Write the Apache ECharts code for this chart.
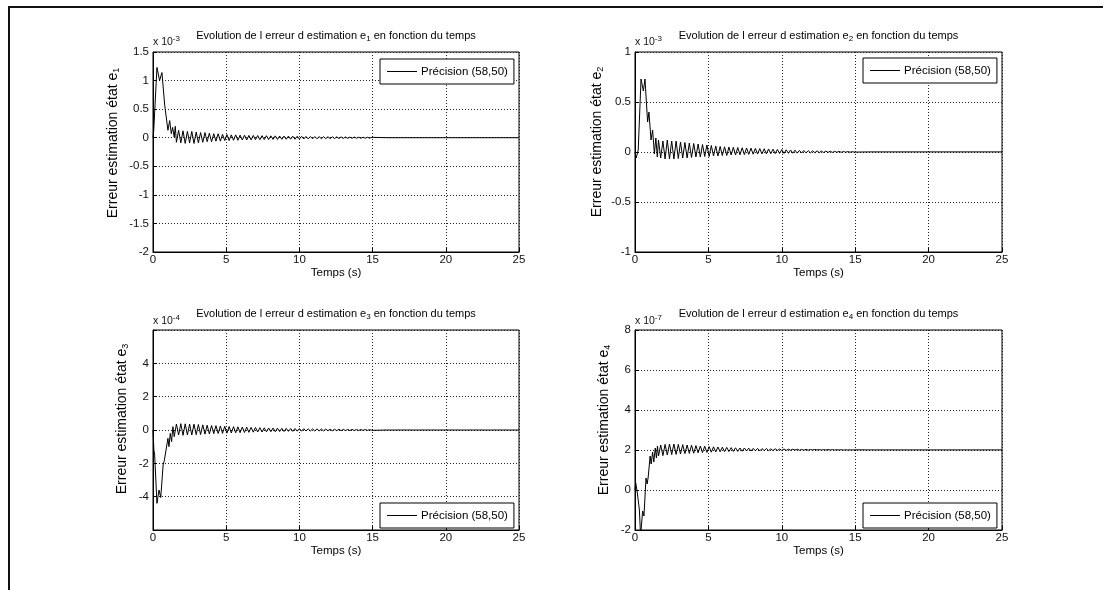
<!DOCTYPE html>
<html><head><meta charset="utf-8">
<script src="https://cdn.jsdelivr.net/npm/echarts@6/dist/echarts.min.js"></script>
<style>html,body{margin:0;padding:0;background:#fff}#c{width:1103px;height:590px}</style>
</head><body><div id="c"></div>
<script>
// ---------- data (values in the units of each axis: e1,e2 x1e-3, e3 x1e-4, e4 x1e-7) ----------
const seriesName = 'Précision (58,50)';
const xMin = 0, xMax = 25, xStep = 5;
const yMin = [-2, -1, -6, -2];
const yMax = [1.5, 1, 6, 8];
const yStep = [0.5, 0.5, 2, 2];
const hiddenYLabels = [[], [], [-6, 6], []];
const exponents = ['-3', '-3', '-4', '-7'];
const stateIdx = ['1', '2', '3', '4'];

// shared oscillation sample times (s), read as alternating peaks / troughs
const tOsc = [1.6,1.75,1.9,2.05,2.2,2.35,2.5,2.65,2.8,2.95,
3.1,3.25,3.4,3.55,3.7,3.85,4.0,4.15,4.3,4.45,
4.6,4.75,4.9,5.05,5.2,5.35,5.5,5.65,5.8,5.95,
6.1,6.25,6.4,6.55,6.7,6.85,7.0,7.15,7.3,7.45,
7.6,7.75,7.9,8.05,8.2,8.35,8.5,8.65,8.8,8.95,
9.1,9.25,9.4,9.55,9.7,9.85,10.0,10.15,10.3,10.45,
10.6,10.75,10.9,11.05,11.2,11.35,11.5,11.65,11.8,11.95,
12.1,12.25,12.4,12.55,12.7,12.85,13.0,13.15,13.3,13.45,
13.6,13.75,13.9,14.05,14.2,14.35,14.5,14.65,14.8,14.95];
const tTail = [16, 25];

// e1
const e1StartT = [0, 0.05, 0.1, 0.27, 0.45, 0.61, 0.8, 0.9, 1.02, 1.14, 1.25, 1.34, 1.45, 1.52];
const e1StartV = [0, 0.12, 0.15, 1.23, 1.0, 1.14, 0.57, 0.6, 0.13, 0.3, 0.07, 0.18, 0.01, 0.2];
const e1Osc = [-0.08,0.13,-0.09,0.12,-0.1,0.11,-0.09,0.11,-0.1,0.1,
-0.09,0.09,-0.08,0.09,-0.07,0.08,-0.07,0.07,-0.06,0.07,
-0.06,0.06,-0.05,0.055,-0.05,0.05,-0.045,0.05,-0.045,0.045,
-0.04,0.045,-0.04,0.04,-0.038,0.04,-0.035,0.038,-0.035,0.036,
-0.033,0.035,-0.032,0.033,-0.03,0.032,-0.03,0.03,-0.028,0.029,
-0.027,0.028,-0.026,0.026,-0.025,0.025,-0.024,0.024,-0.022,0.022,
-0.021,0.021,-0.02,0.02,-0.019,0.019,-0.018,0.018,-0.017,0.017,
-0.016,0.016,-0.015,0.015,-0.014,0.014,-0.013,0.013,-0.012,0.012,
-0.011,0.011,-0.01,0.01,-0.01,0.009,-0.009,0.008,-0.008,0.007];
const e1Tail = [0, 0];

// e2
const e2StartT = [0, 0.08, 0.16, 0.22, 0.41, 0.57, 0.68, 0.86, 0.95, 1.09, 1.2, 1.32, 1.42, 1.52];
const e2StartV = [0, -0.06, -0.05, 0.02, 0.73, 0.61, 0.73, 0.3, 0.4, 0.12, 0.22, -0.02, 0.14, -0.05];
const e2Osc = [0.12,-0.06,0.11,-0.07,0.12,-0.07,0.11,-0.07,0.11,-0.065,
0.1,-0.06,0.095,-0.06,0.09,-0.055,0.085,-0.05,0.08,-0.05,
0.075,-0.045,0.07,-0.045,0.065,-0.04,0.06,-0.04,0.055,-0.035,
0.052,-0.035,0.05,-0.03,0.047,-0.03,0.045,-0.028,0.042,-0.026,
0.04,-0.024,0.038,-0.022,0.036,-0.02,0.034,-0.019,0.032,-0.018,
0.03,-0.017,0.028,-0.016,0.026,-0.015,0.024,-0.014,0.022,-0.013,
0.02,-0.012,0.018,-0.011,0.016,-0.01,0.015,-0.009,0.013,-0.008,
0.012,-0.007,0.011,-0.006,0.01,-0.005,0.009,-0.004,0.008,-0.004,
0.007,-0.003,0.006,-0.003,0.005,-0.002,0.004,-0.002,0.003,-0.001];
const e2Tail = [0.001, 0.001];

// e3
const e3StartT = [0, 0.06, 0.11, 0.27, 0.41, 0.53, 0.69, 0.77, 0.86, 1.02, 1.09, 1.18, 1.27, 1.36, 1.45];
const e3StartV = [0, -1.2, -1.45, -4.4, -3.6, -4.05, -2.1, -1.85, -1.95, -0.5, -1.0, -0.2, -0.7, 0.2, -0.4];
const e3Osc = [0.36,-0.3,0.38,-0.32,0.37,-0.3,0.36,-0.3,0.35,-0.28,
0.33,-0.27,0.31,-0.25,0.29,-0.24,0.27,-0.22,0.26,-0.21,
0.24,-0.2,0.22,-0.19,0.21,-0.18,0.2,-0.17,0.19,-0.16,
0.18,-0.15,0.17,-0.14,0.16,-0.13,0.15,-0.12,0.14,-0.12,
0.13,-0.11,0.12,-0.1,0.12,-0.1,0.11,-0.09,0.1,-0.09,
0.1,-0.08,0.09,-0.08,0.09,-0.07,0.08,-0.07,0.08,-0.06,
0.07,-0.06,0.07,-0.055,0.065,-0.05,0.06,-0.05,0.055,-0.045,
0.05,-0.045,0.05,-0.04,0.045,-0.04,0.04,-0.035,0.04,-0.035,
0.035,-0.03,0.035,-0.03,0.03,-0.025,0.03,-0.025,0.025,-0.02];
const e3Tail = [0, 0];

// e4
const e4StartT = [0, 0.05, 0.16, 0.3, 0.38, 0.46, 0.52, 0.61, 0.75, 0.83, 0.9, 1.03, 1.1, 1.2, 1.28, 1.38, 1.46, 1.53];
const e4StartV = [0, 0.35, -0.15, -1.0, -2.3, -2.3, -1.05, -1.3, 0.6, 0.3, 0.65, 1.7, 1.3, 1.9, 1.4, 2.1, 1.6, 2.2];
const e4Osc = [1.7,2.25,1.72,2.28,1.75,2.3,1.77,2.3,1.78,2.28,
1.8,2.27,1.82,2.25,1.83,2.24,1.84,2.22,1.86,2.2,
1.87,2.19,1.88,2.17,1.89,2.16,1.9,2.15,1.91,2.14,
1.92,2.13,1.92,2.12,1.93,2.11,1.93,2.1,1.94,2.1,
1.95,2.09,1.95,2.08,1.96,2.08,1.96,2.07,1.97,2.07,
1.97,2.06,1.97,2.06,1.98,2.05,1.98,2.05,1.98,2.04,
1.99,2.04,1.99,2.04,1.99,2.03,1.99,2.03,1.99,2.03,
2.0,2.03,2.0,2.02,2.0,2.02,2.0,2.02,2.0,2.02,
2.0,2.015,2.0,2.015,2.0,2.01,2.0,2.01,2.0,2.01];
const e4Tail = [2.005, 2.005];

// ---------- build ----------
function build(st, sv, osc, tail) {
  const T = st.concat(tOsc, tTail);
  const V = sv.concat(osc, tail);
  return T.map((t, i) => [t, V[i]]);
}
const seriesData = [
  build(e1StartT, e1StartV, e1Osc, e1Tail),
  build(e2StartT, e2StartV, e2Osc, e2Tail),
  build(e3StartT, e3StartV, e3Osc, e3Tail),
  build(e4StartT, e4StartV, e4Osc, e4Tail)
];

const FONT = '"Liberation Sans", Arial, Helvetica, sans-serif';
const grids = [
  {left: 153, top: 52, width: 366, height: 200},
  {left: 635, top: 52, width: 367, height: 200},
  {left: 153, top: 330, width: 366, height: 200},
  {left: 635, top: 330, width: 367, height: 200}
];
const legendPos = [
  {left: 380, top: 59}, {left: 863, top: 58},
  {left: 380, top: 503}, {left: 863, top: 503}
];
const titlePos = [[336, 36], [818.5, 36], [336, 314], [818.5, 314]];
const yNamePos = [[113, 143], [597, 142], [122, 419], [604, 420]];
const expPos = [[153, 42], [635, 42], [153, 321], [635, 321]];

const option = {
  animation: false,
  backgroundColor: '#fff',
  grid: grids.map(g => Object.assign({show: true, borderColor: '#000', borderWidth: 1, backgroundColor: '#fff'}, g)),
  xAxis: grids.map((g, i) => ({
    type: 'value', gridIndex: i, min: xMin, max: xMax, interval: xStep,
    name: 'Temps (s)', nameLocation: 'middle', nameGap: 13,
    nameTextStyle: {fontFamily: FONT, fontSize: 11.5, color: '#000'},
    axisLine: {show: true, onZero: false, lineStyle: {color: '#000', width: 1}},
    axisTick: {show: true, inside: true, length: 4, lineStyle: {color: '#000'}},
    axisLabel: {margin: 2, fontFamily: FONT, fontSize: 11.5, color: '#111'},
    splitLine: {show: true, lineStyle: {type: [1, 2], color: '#222', width: 1}}
  })),
  yAxis: grids.map((g, i) => ({
    type: 'value', gridIndex: i, min: yMin[i], max: yMax[i], interval: yStep[i],
    axisLine: {show: true, onZero: false, lineStyle: {color: '#000', width: 1}},
    axisTick: {show: true, inside: true, length: 4, lineStyle: {color: '#000'}},
    axisLabel: {margin: 4, fontFamily: FONT, fontSize: 11.5, color: '#111',
      formatter: v => hiddenYLabels[i].indexOf(v) >= 0 ? '' : String(v)},
    splitLine: {show: true, lineStyle: {type: [1, 2], color: '#222', width: 1}}
  })),
  legend: legendPos.map(p => ({
    left: p.left, top: p.top, orient: 'horizontal',
    data: [{name: seriesName, icon: 'rect'}], selectedMode: false,
    itemWidth: 30, itemHeight: 1, itemGap: 0,
    itemStyle: {color: '#000', borderWidth: 0},
    padding: [6, 6, 6, 7],
    borderColor: '#000', borderWidth: 1, backgroundColor: '#fff',
    textStyle: {fontFamily: FONT, fontSize: 11.5, lineHeight: 13, color: '#000', padding: [0, 0, 0, -1]}
  })),
  series: seriesData.map((d, i) => ({
    type: 'line', name: seriesName, xAxisIndex: i, yAxisIndex: i,
    data: d, symbol: 'none', showSymbol: false, clip: true,
    lineStyle: {color: '#000', width: 1}, itemStyle: {color: '#000'},
    emphasis: {disabled: true}
  })),
  graphic: [
    {type: 'rect', shape: {x: 8, y: 6, width: 1095, height: 2}, style: {fill: '#111'}, silent: true},
    {type: 'rect', shape: {x: 8, y: 6, width: 2, height: 584}, style: {fill: '#111'}, silent: true}
  ].concat(
    titlePos.map((p, i) => ({
      type: 'text', x: p[0], y: p[1], silent: true,
      style: {
        text: '{n|Evolution de l erreur d estimation e}{s|' + stateIdx[i] + '}{n| en fonction du temps}',
        align: 'center', verticalAlign: 'middle', fill: '#000',
        rich: {
          n: {fontFamily: FONT, fontSize: 11, lineHeight: 14, fill: '#000'},
          s: {fontFamily: FONT, fontSize: 8, lineHeight: 7, verticalAlign: 'bottom', fill: '#000'}
        }
      }
    })),
    yNamePos.map((p, i) => ({
      type: 'text', x: p[0], y: p[1], rotation: Math.PI / 2, silent: true,
      style: {
        text: '{n|Erreur estimation état e}{s|' + stateIdx[i] + '}',
        align: 'center', verticalAlign: 'middle', fill: '#000',
        rich: {
          n: {fontFamily: FONT, fontSize: 14, lineHeight: 16, fill: '#000'},
          s: {fontFamily: FONT, fontSize: 9, lineHeight: 8, verticalAlign: 'bottom', fill: '#000'}
        }
      }
    })),
    expPos.map((p, i) => ({
      type: 'text', x: p[0], y: p[1], silent: true,
      style: {
        text: '{a|x 10}{b|' + exponents[i] + '}',
        align: 'left', verticalAlign: 'middle', fill: '#000',
        rich: {
          a: {fontFamily: FONT, fontSize: 10.5, lineHeight: 14, fill: '#111'},
          b: {fontFamily: FONT, fontSize: 8, lineHeight: 6, verticalAlign: 'top', fill: '#111'}
        }
      }
    }))
  )
};
const chart = echarts.init(document.getElementById('c'), null, {renderer: 'canvas'});
chart.setOption(option);
</script>
</body></html>
